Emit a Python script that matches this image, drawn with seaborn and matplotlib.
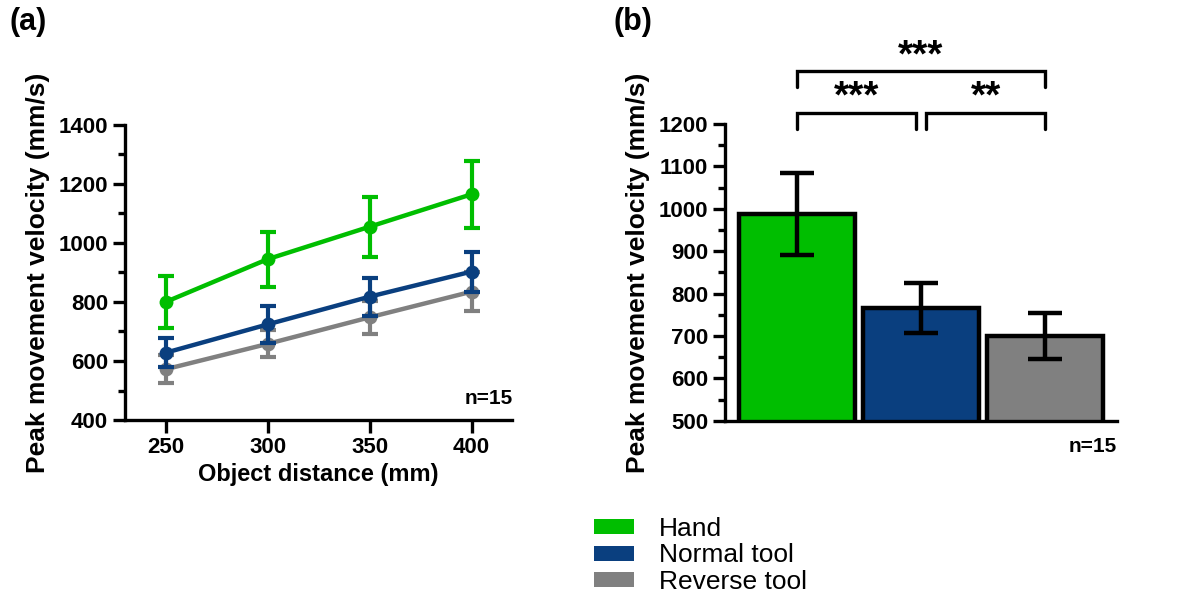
import numpy as np
import pandas as pd
import matplotlib
matplotlib.use("Agg")
import matplotlib.pyplot as plt
from matplotlib.patches import Patch
from matplotlib.ticker import MultipleLocator
import seaborn as sns

sns.set_theme(style="ticks")
plt.rcParams["font.family"] = ["Liberation Sans", "DejaVu Sans"]
plt.rcParams.update({
    "text.color": "black", "axes.labelcolor": "black", "axes.edgecolor": "black",
    "xtick.color": "black", "ytick.color": "black",
})

# ---- data ----
conditions = ["Hand", "Normal tool", "Reverse tool"]
colors = ["#00BE00", "#0A3F7F", "#808080"]

distances = [250, 300, 350, 400]
hand_mean = [800, 945, 1055, 1165]
hand_err = [87, 93, 102, 113]
normal_mean = [628, 724, 818, 903]
normal_err = [50, 63, 64, 68]
reverse_mean = [572, 658, 748, 835]
reverse_err = [48, 46, 56, 66]

bar_mean = [988, 767, 700]
bar_err = [96, 59, 55]

sig_labels = ["***", "**", "***"]

# ---- figure ----
fig = plt.figure(figsize=(12, 5.92), dpi=100)
ax_a = fig.add_axes([0.104, 0.2905, 0.323, 0.4985])
ax_b = fig.add_axes([0.604, 0.289, 0.327, 0.5015])

spine_w = 2.4
tick_fs = 16
xlabel_fs = 17
ylabel_fs = 19


def style_axes(ax):
    sns.despine(ax=ax)
    for s in ("left", "bottom"):
        ax.spines[s].set_linewidth(spine_w)
    ax.tick_params(axis="both", which="major", length=9, width=spine_w,
                   labelsize=tick_fs, pad=3, color="black")
    ax.tick_params(axis="y", which="minor", length=5, width=spine_w, color="black")
    for lab in ax.get_xticklabels() + ax.get_yticklabels():
        lab.set_fontweight("bold")


# ---- panel (a): lines with error bars ----
long = pd.DataFrame({
    "distance": distances * 3,
    "velocity": hand_mean + normal_mean + reverse_mean,
    "err": hand_err + normal_err + reverse_err,
    "condition": np.repeat(conditions, len(distances)),
})

for cond, col, z in zip(conditions[::-1], colors[::-1], [3, 4, 5]):
    sub = long[long["condition"] == cond]
    ax_a.errorbar(sub["distance"], sub["velocity"], yerr=sub["err"], fmt="none",
                  ecolor=col, elinewidth=3, capsize=6, capthick=3, zorder=z)
    sns.lineplot(data=sub, x="distance", y="velocity", ax=ax_a, color=col,
                 linewidth=3.2, marker="o", markersize=10, markeredgewidth=0,
                 zorder=z, legend=False)

ax_a.set_xlim(230, 420)
ax_a.set_ylim(400, 1400)
ax_a.set_xticks(distances)
ax_a.yaxis.set_major_locator(MultipleLocator(200))
ax_a.yaxis.set_minor_locator(MultipleLocator(100))
ax_a.set_xlabel("Object distance (mm)", fontsize=xlabel_fs, fontweight="bold", labelpad=4)
ax_a.set_ylabel("Peak movement velocity (mm/s)", fontsize=ylabel_fs, fontweight="bold", labelpad=6)
style_axes(ax_a)
ax_a.text(1.0, 0.04, "n=15", transform=ax_a.transAxes, ha="right", va="bottom",
          fontsize=15, fontweight="bold")

# ---- panel (b): bars with error bars ----
bars = pd.DataFrame({"condition": conditions, "velocity": bar_mean, "err": bar_err})
sns.barplot(data=bars, x="condition", y="velocity", hue="condition", palette=colors,
            saturation=1, ax=ax_b, width=0.93, edgecolor="black", linewidth=3.2,
            errorbar=None, legend=False, zorder=2)
ax_b.errorbar(range(len(conditions)), bars["velocity"], yerr=bars["err"], fmt="none",
              ecolor="black", elinewidth=3.2, capsize=12, capthick=3.2, zorder=4)

ax_b.set_xlim(-0.58, 2.58)
ax_b.set_ylim(500, 1200)
ax_b.yaxis.set_major_locator(MultipleLocator(100))
ax_b.yaxis.set_minor_locator(MultipleLocator(50))
ax_b.set_xticks([])
ax_b.set_xlabel("")
ax_b.set_ylabel("Peak movement velocity (mm/s)", fontsize=ylabel_fs, fontweight="bold", labelpad=6)
style_axes(ax_b)
ax_b.text(1.0, -0.055, "n=15", transform=ax_b.transAxes, ha="right", va="top",
          fontsize=15, fontweight="bold")

# significance brackets with star labels (baseline placed so the stars sit centred above)
def bracket(ax, x0, x1, y, leg, text, text_base):
    ax.plot([x0, x0, x1, x1], [y - leg, y, y, y - leg], color="black", lw=2.4,
            clip_on=False, solid_joinstyle="miter")
    ax.text((x0 + x1) / 2, text_base, text, ha="center", va="baseline",
            fontsize=28, fontweight="bold", clip_on=False)

bracket(ax_b, 0.0, 0.96, 1226, 38, sig_labels[0], 1240)
bracket(ax_b, 1.04, 2.0, 1226, 38, sig_labels[1], 1240)
bracket(ax_b, 0.0, 2.0, 1325, 38, sig_labels[2], 1336)

# panel letters
fig.text(0.008, 0.962, "(a)", fontsize=22, fontweight="bold", va="center")
fig.text(0.511, 0.962, "(b)", fontsize=22, fontweight="bold", va="center")

# legend
handles = [Patch(facecolor=c, edgecolor="none") for c in colors]
fig.legend(handles, conditions, loc="upper left", bbox_to_anchor=(0.495, 0.127),
           frameon=False, fontsize=19, handlelength=1.52, handleheight=0.5,
           handletextpad=0.95, labelspacing=0.1, borderpad=0, borderaxespad=0)

fig.savefig("out.png", dpi=100)
